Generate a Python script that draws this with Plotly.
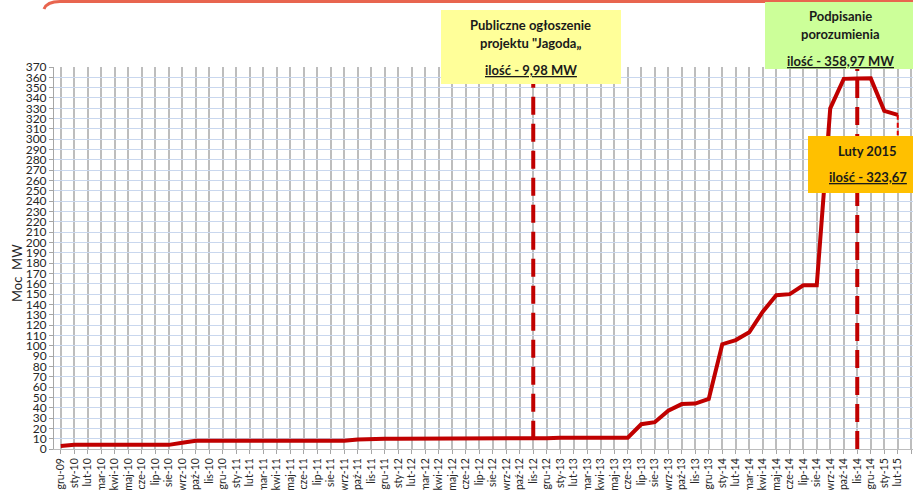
import plotly.graph_objects as go

# ---------------- data ----------------
months = ["gru-09",
          "sty-10", "lut-10", "mar-10", "kwi-10", "maj-10", "cze-10", "lip-10", "sie-10", "wrz-10", "paź-10", "lis-10", "gru-10",
          "sty-11", "lut-11", "mar-11", "kwi-11", "maj-11", "cze-11", "lip-11", "sie-11", "wrz-11", "paź-11", "lis-11", "gru-11",
          "sty-12", "lut-12", "mar-12", "kwi-12", "maj-12", "cze-12", "lip-12", "sie-12", "wrz-12", "paź-12", "lis-12", "gru-12",
          "sty-13", "lut-13", "mar-13", "kwi-13", "maj-13", "cze-13", "lip-13", "sie-13", "wrz-13", "paź-13", "lis-13", "gru-13",
          "sty-14", "lut-14", "mar-14", "kwi-14", "maj-14", "cze-14", "lip-14", "sie-14", "wrz-14", "paź-14", "lis-14", "gru-14",
          "sty-15", "lut-15", "mar-15"]

moc_mw = [3,
          4, 4, 4, 4, 4, 4, 4, 4, 6, 8, 8, 8,
          8, 8, 8, 8, 8, 8, 8, 8, 8, 9.3, 10, 10,
          10, 10, 10, 10, 10, 10, 10, 10, 10, 10, 9.98, 10.5,
          11, 11, 11, 11, 11, 11, 24, 26, 37, 43.5, 44, 48.5,
          101.5, 105.5, 113, 133, 149, 150, 158.5, 158.5, 330, 358.5, 358.97, 359,
          327.5, 323.67, None]

event_months = ["lis-12", "lis-14"]
callout_month = "lut-15"

y_ticks = list(range(0, 371, 10))

# ---------------- layout helpers ----------------
W, H = 913, 490
L, T, B = 54, 67, 41
PW = W - L
PH = H - T - B
CAT_W = 13.5


def px(x):
    return (x - L) / PW


def py(y):
    return (H - B - y) / PH


FONT = "Lato"
TXT = "#262626"

fig = go.Figure()
fig.add_trace(go.Scatter(
    x=list(range(len(months))), y=moc_mw, mode="lines",
    line=dict(color="#C00000", width=4), connectgaps=False,
    hoverinfo="skip", showlegend=False))

shapes = []
# vertical dashed event lines
i1 = months.index(event_months[0])
i2 = months.index(event_months[1])
shapes.append(dict(type="line", xref="x", yref="y", x0=i1, x1=i1,
                   y0=moc_mw[i1], y1=370, line=dict(color="#C00000", width=4, dash="18px,9px"),
                   layer="above"))
shapes.append(dict(type="line", xref="x", yref="y", x0=i2, x1=i2,
                   y0=0, y1=370, line=dict(color="#C00000", width=4, dash="18px,9px"),
                   layer="above"))
# thin dashed connector from lut-15 point
ic = months.index(callout_month)
shapes.append(dict(type="line", xref="x", yref="y", x0=ic, x1=ic,
                   y0=moc_mw[ic], y1=304, line=dict(color="#E00000", width=2, dash="5px,3px"),
                   layer="above"))
# top border of cropped title box
shapes.append(dict(type="path", xref="paper", yref="paper",
                   path=f"M {px(44)},{py(9)} Q {px(47)},{py(1.5)} {px(60)},{py(1.5)} L {px(913)},{py(1.5)}",
                   line=dict(color="#E8654F", width=3), layer="above"))
# callout boxes
shapes.append(dict(type="rect", xref="paper", yref="paper",
                   x0=px(441), x1=px(621), y0=py(84), y1=py(10),
                   fillcolor="#FFFF99", line=dict(width=0), layer="above"))
shapes.append(dict(type="rect", xref="paper", yref="paper",
                   x0=px(765), x1=px(916), y0=py(69), y1=py(2),
                   fillcolor="#CCFF99", line=dict(width=0), layer="above"))
shapes.append(dict(type="rect", xref="paper", yref="paper",
                   x0=px(808), x1=px(927), y0=py(193), y1=py(136),
                   fillcolor="#FFC000", line=dict(width=0), layer="above"))

annotations = []


def label(text, x, y, size=13):
    annotations.append(dict(text=text, xref="paper", yref="paper", x=px(x), y=py(y),
                            xanchor="center", yanchor="middle", showarrow=False,
                            font=dict(family=FONT, size=size, color="#1A1A1A")))


label("<b>Publiczne ogłoszenie</b>", 530.5, 25)
label("<b>projektu \"Jagoda„</b>", 530.5, 43)
label("<b><u>ilość - 9,98 MW</u></b>", 530.5, 70)
label("<b>Podpisanie</b>", 840, 16)
label("<b>porozumienia</b>", 840, 34)
label("<b><u>ilość - 358,97 MW</u></b>", 840, 61)
label("<b>Luty 2015</b>", 867.5, 151)
label("<b><u>ilość - 323,67</u></b>", 867.5, 177)

annotations.append(dict(text="Moc  MW", xref="paper", yref="paper", x=px(17), y=py(273),
                        xanchor="center", yanchor="middle", showarrow=False, textangle=-90,
                        font=dict(family=FONT, size=13, color=TXT)))

fig.update_layout(
    width=W, height=H,
    margin=dict(l=L, r=0, t=T, b=B, autoexpand=False),
    paper_bgcolor="white", plot_bgcolor="white",
    showlegend=False,
    shapes=shapes, annotations=annotations,
    xaxis=dict(
        tickmode="array", tickvals=list(range(len(months))), ticktext=months,
        range=[-0.5, -0.5 + PW / CAT_W],
        tickangle=-90, tickfont=dict(family=FONT, size=10.5, color=TXT),
        showgrid=True, gridcolor="#BDBDBD", gridwidth=2,
        ticks="outside", ticklen=4, tickcolor="#A6A6A6",
        showline=True, linecolor="#BDBDBD", linewidth=1,
        zeroline=False, automargin=False, fixedrange=True,
    ),
    yaxis=dict(
        range=[0, 370], tickmode="array", tickvals=y_ticks,
        ticktext=[str(v) for v in y_ticks],
        tickfont=dict(family=FONT, size=12, color=TXT),
        showgrid=True, gridcolor="#C9D7EE", gridwidth=1,
        ticks="outside", ticklen=4, tickcolor="#A6A6A6",
        showline=True, linecolor="#A6A6A6", linewidth=1,
        zeroline=False, automargin=False, fixedrange=True,
    ),
)

fig.write_html("out.html", config={"displayModeBar": False},
               post_script="document.body.style.margin='0';document.body.style.padding='0';document.body.style.overflow='hidden';")
